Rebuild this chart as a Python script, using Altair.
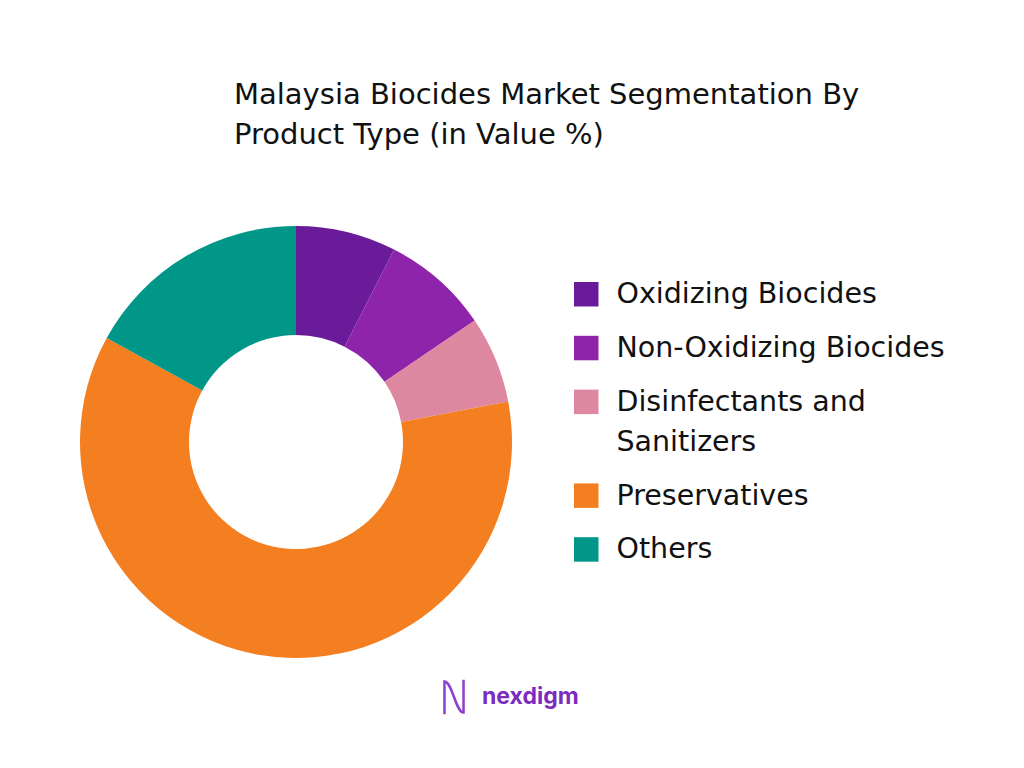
import altair as alt
import pandas as pd

categories = ["Oxidizing Biocides", "Non-Oxidizing Biocides", "Disinfectants and Sanitizers", "Preservatives", "Others"]
values = [7.5, 8.0, 6.5, 61.0, 17.0]
colors = ["#6A1B9A", "#8E24AA", "#DE87A0", "#F47F20", "#009688"]
title_lines = ["Malaysia Biocides Market Segmentation By", "Product Type (in Value %)"]
brand = ["nexdigm"]

FONT = "DejaVu Sans"

df = pd.DataFrame({"segment": categories, "value": values, "order": list(range(len(categories)))})

label_expr = "datum.label == 'Disinfectants and Sanitizers' ? ['Disinfectants and', 'Sanitizers'] : datum.label"

pie = alt.Chart(df).mark_arc(outerRadius=216, innerRadius=107).encode(
    theta=alt.Theta("value:Q", stack=True),
    color=alt.Color(
        "segment:N",
        scale=alt.Scale(domain=categories, range=colors),
        sort=categories,
        legend=alt.Legend(
            title=None, orient="none", legendX=564, legendY=272,
            symbolType="square", symbolSize=600, symbolStrokeWidth=0,
            labelFontSize=28.5, labelFont=FONT, labelColor="#111111",
            rowPadding=24.8, labelOffset=16, labelLimit=500,
            labelExpr=label_expr,
        ),
    ),
    order=alt.Order("order:Q"),
    x=alt.value(288),
    y=alt.value(434),
)

title_df = pd.DataFrame({"t": ["\n".join(title_lines)]})
title = alt.Chart(title_df).mark_text(
    align="left", baseline="alphabetic", fontSize=29, font=FONT,
    color="#111111", lineBreak="\n", lineHeight=40,
).encode(text="t:N", x=alt.value(226), y=alt.value(96))

brand_df = pd.DataFrame({"b": brand})
logo_text = alt.Chart(brand_df).mark_text(
    align="left", baseline="alphabetic", fontSize=23, font="Inter",
    fontWeight="bold", color="#7B2CBF",
).encode(text="b:N", x=alt.value(474), y=alt.value(696))

logo_mark = alt.Chart(brand_df).mark_point(
    shape="M -0.55 1 L -0.55 -0.9 C -0.1 -0.9 0.1 0.9 0.55 0.9 L 0.55 -1",
    filled=False, strokeWidth=2.5, color="#8E3FD0", size=1200, opacity=1,
).encode(x=alt.value(446), y=alt.value(689))

chart = alt.layer(pie, title, logo_text, logo_mark).properties(
    width=1008, height=752,
    autosize=alt.AutoSizeParams(type="none"),
    padding=0,
).configure(
    background="white",
    view=alt.ViewConfig(stroke=None),
    style={"guide-label": {"lineHeight": 40}},
)

chart.save("out.html", embed_options={"renderer": "svg", "actions": False})
